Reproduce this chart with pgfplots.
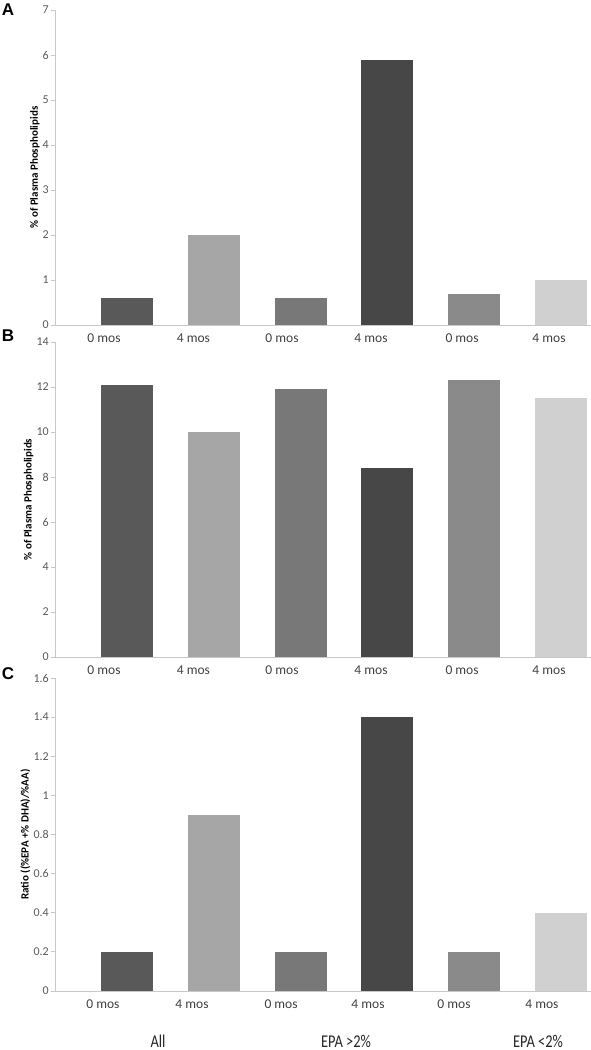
\documentclass[border=0pt]{standalone}
\usepackage{fontspec}
\setmainfont{Carlito}
\newfontfamily\arialfont{Liberation Sans}
\usepackage{pgfplots}
\pgfplotsset{compat=1.18}
\definecolor{cA}{HTML}{595959}
\definecolor{cB}{HTML}{A6A6A6}
\definecolor{cC}{HTML}{787878}
\definecolor{cD}{HTML}{474747}
\definecolor{cE}{HTML}{8A8A8A}
\definecolor{cF}{HTML}{D0D0D0}
\definecolor{axgray}{HTML}{C8C8C8}
\definecolor{ylab}{HTML}{595959}
\definecolor{xlab}{HTML}{404040}
\pgfplotsset{
  panel/.style={
    scale only axis, width=536pt,
    xmin=-0.837, xmax=5.352, ymin=0,
    axis x line=bottom, axis y line=left,
    axis line style={draw=axgray, line width=0.8pt, -},
    xtick style={draw=none},
    ytick style={draw=axgray, line width=0.8pt},
    tick align=outside, major tick length=4pt,
    xticklabels={0 mos,4 mos,0 mos,4 mos,0 mos,4 mos},
    x tick label style={font=\fontsize{13.5}{14}\selectfont, text=xlab, anchor=north, yshift=-1pt},
    y tick label style={font=\fontsize{12}{13}\selectfont, text=ylab, inner sep=2pt},
    /pgf/number format/assume math mode=true,
    every axis y label/.style={at={(ticklabel cs:0.5)}, rotate=90, anchor=near ticklabel, inner sep=1pt, font=\bfseries\fontsize{11}{12}\selectfont},
    clip=false,
    ybar, bar width=52pt,
  },
  bars/.style={draw=none, bar shift=0pt},
}
\begin{document}
\begin{tikzpicture}
\useasboundingbox (0,0) rectangle (591pt,-1050pt);
% Panel A
\begin{axis}[panel, at={(55pt,-325pt)}, anchor=south west, height=315pt,
  ymax=7, ytick={0,1,2,3,4,5,6,7},
  xtick={-0.271,0.762,1.784,2.812,3.863,4.867},
  ylabel={\% of Plasma Phospholipids}]
\addplot[bars, fill=cA] coordinates {(0,0.6)};
\addplot[bars, fill=cB] coordinates {(1,2.0)};
\addplot[bars, fill=cC] coordinates {(2,0.6)};
\addplot[bars, fill=cD] coordinates {(3,5.9)};
\addplot[bars, fill=cE] coordinates {(4,0.7)};
\addplot[bars, fill=cF] coordinates {(5,1.0)};
\end{axis}
% Panel B
\begin{axis}[panel, at={(55pt,-657pt)}, anchor=south west, height=315pt,
  ymax=14, ytick={0,2,4,6,8,10,12,14},
  xtick={-0.271,0.762,1.784,2.812,3.863,4.867},
  ylabel={\% of Plasma Phospholipids}]
\addplot[bars, fill=cA] coordinates {(0,12.1)};
\addplot[bars, fill=cB] coordinates {(1,10.0)};
\addplot[bars, fill=cC] coordinates {(2,11.9)};
\addplot[bars, fill=cD] coordinates {(3,8.4)};
\addplot[bars, fill=cE] coordinates {(4,12.3)};
\addplot[bars, fill=cF] coordinates {(5,11.5)};
\end{axis}
% Panel C
\begin{axis}[panel, at={(55pt,-991pt)}, anchor=south west, height=313pt,
  ymax=1.6, ytick={0,0.2,0.4,0.6,0.8,1,1.2,1.4,1.6},
  xtick={-0.283,0.745,1.773,2.777,3.770,4.786},
  ylabel={Ratio ((\%EPA +\% DHA)/\%AA)}]
\addplot[bars, fill=cA] coordinates {(0,0.2)};
\addplot[bars, fill=cB] coordinates {(1,0.9)};
\addplot[bars, fill=cC] coordinates {(2,0.2)};
\addplot[bars, fill=cD] coordinates {(3,1.4)};
\addplot[bars, fill=cE] coordinates {(4,0.2)};
\addplot[bars, fill=cF] coordinates {(5,0.4)};
\end{axis}
% panel letters
\node[font=\arialfont\bfseries\fontsize{17}{17}\selectfont, anchor=center] at (8pt,-10pt) {A};
\node[font=\arialfont\bfseries\fontsize{17}{17}\selectfont, anchor=center] at (8pt,-336pt) {B};
\node[font=\arialfont\bfseries\fontsize{17}{17}\selectfont, anchor=center] at (8pt,-674pt) {C};
% group labels
\node[text=black!85, anchor=base, inner sep=0pt] at (158pt,-1047pt) {\scalebox{0.8}[1]{\fontsize{18}{18}\selectfont All}};
\node[text=black!85, anchor=base, inner sep=0pt] at (346pt,-1047pt) {\scalebox{0.8}[1]{\fontsize{18}{18}\selectfont EPA >2\%}};
\node[text=black!85, anchor=base, inner sep=0pt] at (538pt,-1047pt) {\scalebox{0.8}[1]{\fontsize{18}{18}\selectfont EPA <2\%}};
\end{tikzpicture}
\end{document}
